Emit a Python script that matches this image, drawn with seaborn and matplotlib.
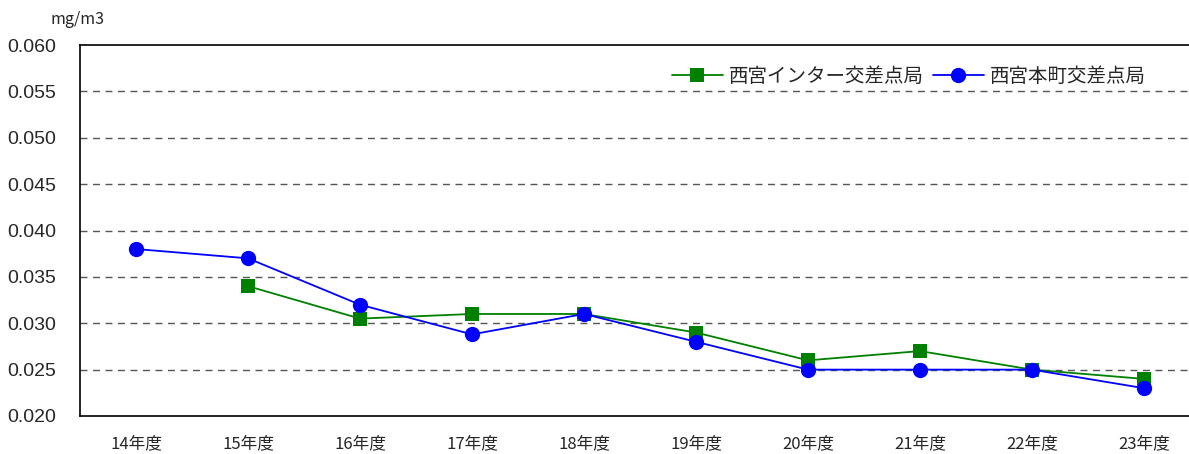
import matplotlib

matplotlib.use('Agg')
import matplotlib.pyplot as plt
import seaborn as sns
import numpy as np
import pandas as pd

sns.set_style('white')
plt.rcParams['font.family'] = ['Noto Sans CJK JP', 'DejaVu Sans']

years = ['14年度', '15年度', '16年度', '17年度', '18年度',
         '19年度', '20年度', '21年度', '22年度', '23年度']
inter = [np.nan, 0.034, 0.0305, 0.031, 0.031, 0.029, 0.026, 0.027, 0.025, 0.024]
honmachi = [0.038, 0.037, 0.032, 0.0288, 0.031, 0.028, 0.025, 0.025, 0.025, 0.023]
name_inter = '西宮インター交差点局'
name_honmachi = '西宮本町交差点局'

df = pd.DataFrame({'x': np.arange(len(years)), 'inter': inter, 'honmachi': honmachi})

fig = plt.figure(figsize=(11.89, 4.54), dpi=100)
ax = fig.add_axes([80 / 1189, 1 - 416 / 454, 1120 / 1189, 371 / 454])

sns.lineplot(data=df, x='x', y='inter', ax=ax, color='#008000', marker='s',
             markersize=10, markeredgewidth=0, lw=1.3, label=name_inter, legend=False)
sns.lineplot(data=df, x='x', y='honmachi', ax=ax, color='#0000ff', marker='o',
             markersize=11, markeredgewidth=0, lw=1.3, label=name_honmachi, legend=False)

ax.set_ylim(0.020, 0.060)
ax.set_xlim(-0.5, len(years) - 0.5)
yt = np.arange(0.020, 0.0601, 0.005)
ax.set_yticks(yt)
ax.set_yticklabels([f'{v:.3f}' for v in yt], fontsize=14, family='Liberation Sans')
for v in yt[1:-1]:
    ax.axhline(v, color='#555555', ls=(0, (5, 4)), lw=1, zorder=0)

ax.set_xticks(np.arange(len(years)))
ax.set_xticklabels(years, fontsize=12)
ax.set_xticks(np.arange(0.5, len(years) - 0.5, 1), minor=True)
ax.tick_params(axis='x', which='major', length=0, pad=14)
ax.tick_params(axis='x', which='minor', length=4, direction='in', width=1, color='#333333')
ax.tick_params(axis='y', length=0, pad=17)
ax.set_xlabel('')
ax.set_ylabel('')

for s in ['left', 'bottom', 'top']:
    ax.spines[s].set_color('black')
    ax.spines[s].set_linewidth(1.2)
ax.spines['right'].set_visible(False)

fig.text(50 / 1189, 1 - 20 / 454, 'mg/m3', fontsize=11.5, va='center', ha='left')

handles, labels = ax.get_legend_handles_labels()
fig.legend(handles, labels, loc='upper right', bbox_to_anchor=(1163 / 1189, 1 - 48 / 454),
           ncol=2, frameon=False, fontsize=14, handlelength=2.6, columnspacing=0.5,
           handletextpad=0.3)

plt.savefig('out.png', dpi=100)
plt.close()
